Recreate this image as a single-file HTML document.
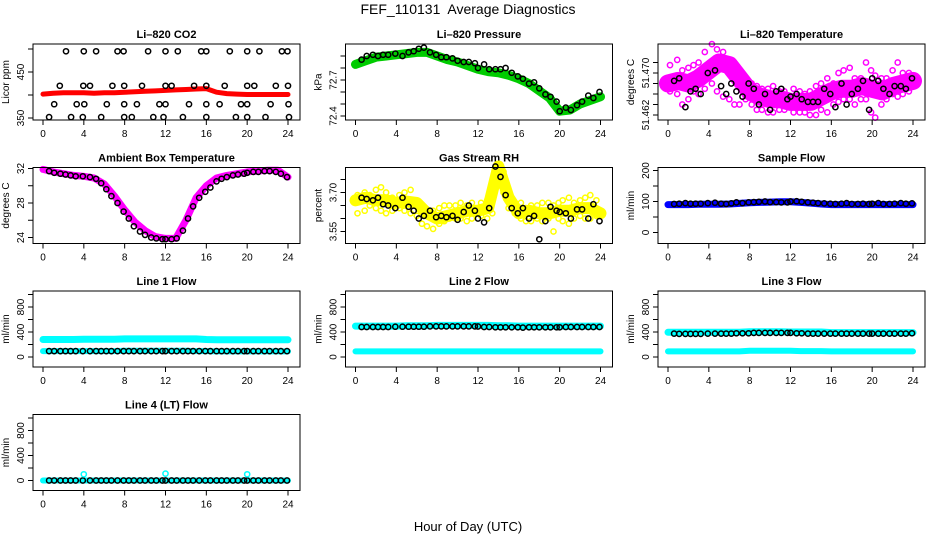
<!DOCTYPE html>
<html><head><meta charset="utf-8">
<style>
html,body{margin:0;padding:0;background:#fff;}
svg{display:block;font-family:"Liberation Sans",Arial,sans-serif;}
text{white-space:pre;}
</style></head>
<body>
<svg id="chart" width="936" height="540" viewBox="0 0 936 540" xmlns="http://www.w3.org/2000/svg">
<text x="468" y="14" text-anchor="middle" font-size="14">FEF_110131  Average Diagnostics</text>
<text x="468" y="531" text-anchor="middle" font-size="13">Hour of Day (UTC)</text>
<g id="panels"></g>
</svg>
<script>
// Shared hours
const hourGrid = [0,1,2,3,4,5,6,7,8,9,10,11,12,13,14,15,16,17,18,19,20,21,22,23,24];
const blackHours = [0.6,1.1,1.7,2.2,2.7,3.2,3.9,4.6,5.2,5.7,6.2,6.7,7.3,7.9,8.4,8.9,9.5,10.0,10.6,11.1,11.7,12.0,12.6,13.1,13.7,14.2,14.7,15.3,15.9,16.4,17.0,17.5,18.0,18.6,19.1,19.7,20.0,20.6,21.1,21.7,22.2,22.8,23.3,23.9];
const cloudHours = [0.2,0.9,1.4,2.0,2.5,3.0,3.6,4.3,4.8,5.4,6.0,6.5,7.0,7.6,8.2,8.7,9.2,9.8,10.3,10.9,11.4,12.3,12.9,13.4,13.9,14.5,15.0,15.6,16.2,16.7,17.2,17.8,18.3,18.9,19.4,19.9,20.3,20.9,21.4,22.0,22.5,23.0,23.6];
const xTicks = [0,4,8,12,16,20,24];

// CO2
const co2Band = [402,404,405,405,405,404,405,405,406,407,408,409,410,411,412,413,414,406,403,402,401,401,401,401,401];
const co2Hours500 = [2.25,4.0,5.2,7.3,7.9,10.3,12.0,13.2,15.5,16.0,18.3,20.0,21.2,23.4,23.95];
const co2Hours420 = [1.65,3.95,4.6,6.8,7.95,9.7,12.0,12.6,14.8,16.0,17.8,20.0,20.7,22.8,24.0];
const co2Hours380 = [1.1,3.3,4.05,6.25,7.95,9.2,11.4,12.0,14.3,16.0,17.3,19.4,20.0,22.3,24.05];
const co2Hours350 = [0.6,2.75,3.9,5.7,7.95,8.7,10.8,11.8,13.7,16.0,18.9,20.0,21.8,24.1];
// Pressure
const presBand = [72.83,72.86,72.89,72.90,72.91,72.92,72.93,72.93,72.90,72.87,72.85,72.82,72.79,72.77,72.76,72.74,72.71,72.67,72.61,72.55,72.44,72.45,72.50,72.53,72.56];
const presBlack = [72.87,72.90,72.91,72.90,72.91,72.91,72.92,72.90,72.93,72.94,72.96,72.97,72.93,72.91,72.89,72.89,72.88,72.86,72.85,72.85,72.84,72.80,72.83,72.79,72.79,72.79,72.80,72.76,72.73,72.71,72.67,72.68,72.63,72.58,72.56,72.52,72.44,72.47,72.45,72.49,72.52,72.57,72.55,72.60];
// Li-820 temperature
const tempBand = [51.468,51.4685,51.468,51.469,51.4705,51.472,51.4715,51.469,51.4665,51.4655,51.465,51.465,51.4645,51.4645,51.4645,51.4655,51.4665,51.467,51.467,51.4675,51.467,51.4665,51.4675,51.468,51.4685];
const tempCloudHi = [51.4715,51.4725,51.4705,51.4710,51.4715,51.4720,51.4740,51.4755,51.4745,51.4740,51.4725,51.4705,51.4700,51.4690,51.4680,51.4675,51.4670,51.4670,51.4675,51.4665,51.4665,51.4670,51.4665,51.4660,51.4665,51.4675,51.4680,51.4690,51.4680,51.4700,51.4705,51.4710,51.4690,51.4690,51.4720,51.4705,51.4695,51.4690,51.4690,51.4705,51.4720,51.4700,51.4700];
const tempCloudLo = [51.4665,51.4660,51.4640,51.4650,51.4665,51.4660,51.4670,51.4680,51.4665,51.4655,51.4650,51.4640,51.4640,51.4650,51.4640,51.4630,51.4630,51.4625,51.4625,51.4630,51.4630,51.4625,51.4625,51.4625,51.4620,51.4620,51.4630,51.4625,51.4640,51.4645,51.4650,51.4650,51.4640,51.4650,51.4650,51.4625,51.4615,51.4640,51.4650,51.4660,51.4655,51.4660,51.4665];
const tempBlack = [51.4685,51.4690,51.4635,51.4665,51.4670,51.4660,51.4700,51.4705,51.4675,51.4660,51.4680,51.4665,51.4655,51.4680,51.4670,51.4640,51.4660,51.4630,51.4665,51.4670,51.4650,51.4655,51.4660,51.4650,51.4645,51.4645,51.4645,51.4670,51.4660,51.4635,51.4680,51.4640,51.4660,51.4670,51.4685,51.4630,51.4690,51.4685,51.4670,51.4660,51.4675,51.4675,51.4670,51.4690];
// Ambient box temperature
const ambBand = [31.9,31.6,31.4,31.2,31.1,30.9,30.2,28.8,27.2,25.8,24.8,24.1,23.9,23.9,26.0,28.6,30.0,30.9,31.2,31.4,31.6,31.7,31.8,31.8,31.0];
const ambBlack = [31.7,31.5,31.4,31.3,31.2,31.1,31.1,31.0,30.8,30.3,29.6,28.8,28.0,27.0,26.2,25.3,24.7,24.3,24.0,23.9,23.8,23.8,23.8,23.9,24.8,26.2,27.6,28.6,29.3,29.8,30.5,30.8,31.0,31.2,31.3,31.4,31.5,31.6,31.6,31.7,31.7,31.6,31.4,31.0];
// Gas stream RH
const rhBand = [3.67,3.68,3.67,3.67,3.66,3.665,3.66,3.62,3.60,3.61,3.62,3.63,3.63,3.64,3.80,3.68,3.62,3.63,3.62,3.62,3.63,3.63,3.64,3.64,3.62];
const rhCloudHi = [3.69,3.70,3.69,3.71,3.72,3.70,3.68,3.69,3.70,3.71,3.67,3.64,3.63,3.63,3.64,3.65,3.65,3.65,3.66,3.65,3.66,3.66,3.67,3.72,3.79,3.78,3.70,3.65,3.66,3.64,3.65,3.65,3.66,3.66,3.65,3.66,3.67,3.68,3.66,3.67,3.68,3.69,3.67];
const rhCloudLo = [3.62,3.63,3.65,3.64,3.63,3.62,3.63,3.64,3.63,3.62,3.61,3.58,3.57,3.56,3.58,3.59,3.60,3.60,3.60,3.59,3.60,3.61,3.60,3.62,3.74,3.70,3.64,3.62,3.60,3.59,3.59,3.60,3.59,3.60,3.55,3.60,3.59,3.58,3.60,3.61,3.60,3.60,3.61];
const rhBlack = [3.68,3.675,3.67,3.68,3.655,3.65,3.64,3.68,3.645,3.63,3.60,3.61,3.63,3.605,3.61,3.605,3.61,3.595,3.625,3.65,3.63,3.60,3.585,3.64,3.80,3.76,3.69,3.64,3.62,3.64,3.60,3.61,3.52,3.59,3.645,3.63,3.625,3.62,3.60,3.635,3.635,3.60,3.655,3.59];
// Sample flow
const sampleBand = [90,90,90,91,91,91,92,94,96,97,98,99,99,97,95,92,90,90,90,90,90,90,90,90,90];
const sampleBlack = [92,93,95,93,93,93,95,96,93,92,94,97,95,97,98,99,100,98,98,97,97,100,101,99,97,96,95,94,93,92,93,95,92,92,93,92,93,95,92,92,93,95,93,94];
// Line flows
const line1Upper = [280,280,280,280,285,285,285,285,290,290,290,290,290,290,290,290,280,275,275,275,275,275,275,275,275];
const line1Lower = [95,95,95,95,95,95,95,95,100,100,100,100,100,100,100,95,95,90,90,90,90,90,90,90,90];
const line1Black = [95,95,95,95,95,95,95,95,95,95,95,95,95,95,95,95,95,95,95,95,95,95,95,95,95,95,95,95,95,95,95,95,95,95,95,95,95,95,95,95,95,95,95,95];
const line2Upper = [495,495,495,495,495,500,500,500,505,505,505,505,505,505,500,500,495,495,495,495,495,495,495,495,495];
const line2Lower = [90,90,90,90,90,90,90,90,90,90,90,90,90,90,90,90,90,90,90,90,90,90,90,90,90];
const line2Black = [480,480,480,480,480,480,485,485,485,485,485,485,490,490,490,490,490,490,490,490,490,488,480,480,475,475,475,475,475,470,475,475,475,475,475,475,475,480,480,480,480,480,480,480];
const line3Upper = [395,395,395,395,395,395,395,395,405,405,405,405,400,400,400,400,390,390,390,390,390,390,390,390,390];
const line3Lower = [90,90,90,90,90,90,90,90,100,100,100,100,100,95,95,95,90,90,90,90,90,90,90,90,90];
const line3Black = [375,370,370,370,370,370,375,375,375,375,375,380,380,380,385,385,385,385,385,385,385,385,380,380,375,375,375,375,375,375,375,375,375,375,375,375,375,375,375,375,375,375,375,380];
const line4Band = [0,0,0,0,0,0,0,0,0,0,0,0,0,0,0,0,0,0,0,0,0,0,0,0,0];
const line4Black = [0,0,0,0,0,0,0,0,0,0,0,0,0,0,0,0,0,0,0,0,0,0,0,0,0,0,0,0,0,0,0,0,0,0,0,0,0,0,0,0,0,0,0,0];
const line4OutHours = [4,12,20];
const line4OutVals = [100,110,100];

const NS = "http://www.w3.org/2000/svg";
const root = document.getElementById('panels');
function mk(tag, attrs, parent){
  const e = document.createElementNS(NS, tag);
  for (const k in attrs) e.setAttribute(k, attrs[k]);
  (parent||root).appendChild(e); return e;
}

function panel(cfg){
  const L = 33 + cfg.col*312.5, R = L + 267, T = 44 + cfg.row*123.5, B = T + 76;
  const g = mk('g', {});
  
  
  const xs = h => L + 10 + h*(245/24);
  const ys = v => T + cfg.off - (v - cfg.v0)*cfg.k;
  const t = mk('text', {x:(L+R)/2, y:T-6, 'text-anchor':'middle', 'font-size':11, 'font-weight':'bold'}, g);
  t.textContent = cfg.title;
  
  
  (cfg.bands||[]).forEach(b=>{
    const pts = b.hours.map((h,i)=>xs(h).toFixed(1)+','+ys(b.vals[i]).toFixed(1)).join(' ');
    const pl = mk('polyline', {points:pts, fill:'none', stroke:b.color, 'stroke-width':b.w, 'stroke-linejoin':'round', 'stroke-linecap':'round'}, g);
    
    
  });
  (cfg.points||[]).forEach(p=>{
    const n = Math.min(p.hours.length, p.vals.length);
    for (let i=0;i<n;i++){
      const c = mk('circle', {cx:xs(p.hours[i]).toFixed(1), cy:ys(p.vals[i]).toFixed(1), r:2.6, fill:'none', stroke:p.color, 'stroke-width':1.5}, g);
      
      
    }
  });
  const box = mk('rect', {x:L, y:T, width:R-L, height:B-T, fill:'none', stroke:'#000', 'stroke-width':1}, g);
  
  
  xTicks.forEach(v=>{
    mk('line', {x1:xs(v), x2:xs(v), y1:B, y2:B+5, stroke:'#000'}, g);
    const tl = mk('text', {x:xs(v), y:B+17, 'text-anchor':'middle', 'font-size':10}, g);
    tl.textContent = v;
    
    
  });
  cfg.yTicks.forEach(v=>{
    const y = ys(v);
    mk('line', {x1:L-5, x2:L, y1:y, y2:y, stroke:'#000'}, g);
  });
  cfg.yLabels.forEach(v=>{
    const y = ys(v);
    const tl = mk('text', {x:0, y:0, 'text-anchor':'middle', 'font-size':10, transform:`translate(${L-9},${y}) rotate(-90)`}, g);
    tl.textContent = v;
    
    
  });
  const yt = mk('text', {x:0, y:0, 'text-anchor':'middle', 'font-size':10, transform:`translate(${L-24},${(T+B)/2}) rotate(-90)`}, g);
  yt.textContent = cfg.ylab;
  
  
}

function const_(arr, v){ return arr.map(()=>v); }

panel({name:'panel-co2', title:'Li\u2013820 CO2', col:0,row:0, v0:350, off:74, k:0.46, ylab:'Licor ppm',
  yTicks:[350,400,450,500], yLabels:['350','450'],
  bands:[{hours:hourGrid, vals:co2Band, color:'#ff0000', w:5}],
  points:[{hours:co2Hours500, vals:const_(co2Hours500,495), color:'#000'},
          {hours:co2Hours420, vals:const_(co2Hours420,420), color:'#000'},
          {hours:co2Hours380, vals:const_(co2Hours380,380), color:'#000'},
          {hours:co2Hours350, vals:const_(co2Hours350,352), color:'#000'}]});
panel({name:'panel-pressure', title:'Li\u2013820 Pressure', col:1,row:0, v0:72.4, off:72, k:120, ylab:'kPa',
  yTicks:[72.4,72.5,72.6,72.7,72.8,72.9], yLabels:['72.4','72.7'],
  bands:[{hours:hourGrid, vals:presBand, color:'#00cc00', w:9}],
  points:[{hours:blackHours, vals:presBlack, color:'#000'}]});
panel({name:'panel-li820-temperature', title:'Li\u2013820 Temperature', col:2,row:0, v0:51.462, off:71, k:5250, ylab:'degrees C',
  yTicks:[51.462,51.464,51.466,51.468,51.470,51.472], yLabels:['51.462','51.470'],
  bands:[{hours:hourGrid, vals:tempBand, color:'#ff00ff', w:18}],
  points:[{hours:cloudHours, vals:tempCloudHi, color:'#ff00ff'},{hours:cloudHours, vals:tempCloudLo, color:'#ff00ff'},{hours:blackHours, vals:tempBlack, color:'#000'}]});
panel({name:'panel-ambient-temperature', title:'Ambient Box Temperature', col:0,row:1, v0:24, off:70, k:8.625, ylab:'degrees C',
  yTicks:[24,26,28,30,32], yLabels:['24','28','32'],
  bands:[{hours:hourGrid, vals:ambBand, color:'#ff00ff', w:7}],
  points:[{hours:blackHours, vals:ambBlack, color:'#000'}]});
panel({name:'panel-gas-rh', title:'Gas Stream RH', col:1,row:1, v0:3.70, off:25, k:260, ylab:'percent',
  yTicks:[3.55,3.60,3.65,3.70,3.75], yLabels:['3.55','3.70'],
  bands:[{hours:hourGrid, vals:rhBand, color:'#ffff00', w:12}],
  points:[{hours:cloudHours, vals:rhCloudHi, color:'#ffff00'},{hours:cloudHours, vals:rhCloudLo, color:'#ffff00'},{hours:blackHours, vals:rhBlack, color:'#000'}]});
panel({name:'panel-sample-flow', title:'Sample Flow', col:2,row:1, v0:0, off:65, k:0.31, ylab:'ml/min',
  yTicks:[0,50,100,150,200], yLabels:['0','100','200'],
  bands:[{hours:hourGrid, vals:sampleBand, color:'#0000ff', w:7}],
  points:[{hours:blackHours, vals:sampleBlack, color:'#000'}]});
panel({name:'panel-line1-flow', title:'Line 1 Flow', col:0,row:2, v0:0, off:66, k:0.0625, ylab:'ml/min',
  yTicks:[0,200,400,600,800,1000], yLabels:['0','400','800'],
  bands:[{hours:hourGrid, vals:line1Upper, color:'#00ffff', w:7},{hours:hourGrid, vals:line1Lower, color:'#00ffff', w:6}],
  points:[{hours:blackHours, vals:line1Black, color:'#000'}]});
panel({name:'panel-line2-flow', title:'Line 2 Flow', col:1,row:2, v0:0, off:66, k:0.0625, ylab:'ml/min',
  yTicks:[0,200,400,600,800,1000], yLabels:['0','400','800'],
  bands:[{hours:hourGrid, vals:line2Upper, color:'#00ffff', w:7},{hours:hourGrid, vals:line2Lower, color:'#00ffff', w:6}],
  points:[{hours:blackHours, vals:line2Black, color:'#000'}]});
panel({name:'panel-line3-flow', title:'Line 3 Flow', col:2,row:2, v0:0, off:66, k:0.0625, ylab:'ml/min',
  yTicks:[0,200,400,600,800,1000], yLabels:['0','400','800'],
  bands:[{hours:hourGrid, vals:line3Upper, color:'#00ffff', w:7},{hours:hourGrid, vals:line3Lower, color:'#00ffff', w:6}],
  points:[{hours:blackHours, vals:line3Black, color:'#000'}]});
panel({name:'panel-line4-flow', title:'Line 4 (LT) Flow', col:0,row:3, v0:0, off:66, k:0.0625, ylab:'ml/min',
  yTicks:[0,200,400,600,800,1000], yLabels:['0','400','800'],
  bands:[{hours:hourGrid, vals:line4Band, color:'#00ffff', w:6}],
  points:[{hours:blackHours, vals:line4Black, color:'#000'},{hours:line4OutHours, vals:line4OutVals, color:'#00ffff'}]});
</script>
</body></html>
